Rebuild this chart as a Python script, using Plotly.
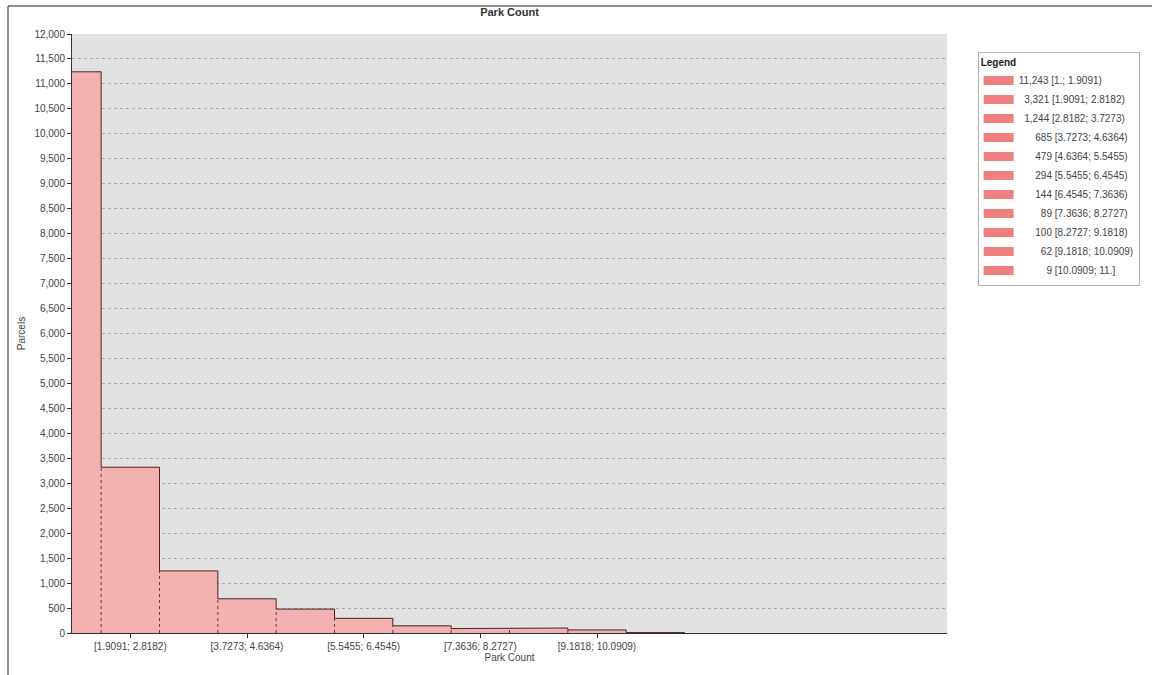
import plotly.graph_objects as go

counts = [11243, 3321, 1244, 685, 479, 294, 144, 89, 100, 62, 9]
intervals = ["[1.; 1.9091)", "[1.9091; 2.8182)", "[2.8182; 3.7273)", "[3.7273; 4.6364)",
             "[4.6364; 5.5455)", "[5.5455; 6.4545)", "[6.4545; 7.3636)", "[7.3636; 8.2727)",
             "[8.2727; 9.1818)", "[9.1818; 10.0909)", "[10.0909; 11.]"]
tick_positions = [1, 3, 5, 7, 9]
tick_labels = [intervals[i] for i in tick_positions]

FONT = "Liberation Sans, Arial, sans-serif"
BAR_FILL = "#f2b0b0"
LEG_FILL = "#ee8080"
OUTLINE = "#4a2222"
DASH_EDGE = "#7a3030"

fig = go.Figure()

max_len = max(len(f"{c:,}") for c in counts)
for i, (c, lab) in enumerate(zip(counts, intervals)):
    num = f"{c:,}"
    pad = "\u2007" * (max_len - len(num))
    fig.add_trace(go.Bar(
        x=[i], y=[c], width=1,
        name=f"{pad}{num} {lab}",
        marker=dict(color=BAR_FILL, line=dict(width=0)),
        showlegend=False, hoverinfo="y+name",
    ))
    # legend proxy (rectangular swatch)
    fig.add_trace(go.Scatter(
        x=[None], y=[None], mode="lines",
        name=f"{pad}{num} {lab}",
        line=dict(color=LEG_FILL, width=9),
        showlegend=True,
    ))

# dashed shared edges between neighbouring bars (derived from the data)
dx, dy = [], []
for i in range(len(counts) - 1):
    dx += [i + 0.5, i + 0.5, None]
    dy += [0, min(counts[i], counts[i + 1]), None]
fig.add_trace(go.Scatter(x=dx, y=dy, mode="lines", showlegend=False, hoverinfo="skip",
                         line=dict(color=DASH_EDGE, width=1, dash="3px,3px")))

# solid silhouette outline along the bar tops
sx, sy = [], []
for i, c in enumerate(counts):
    sx += [i - 0.5, i + 0.5]
    sy += [c, c]
sx.append(len(counts) - 0.5)
sy.append(0)
fig.add_trace(go.Scatter(x=sx, y=sy, mode="lines", showlegend=False, hoverinfo="skip",
                         line=dict(color=OUTLINE, width=1)))

fig.update_layout(
    width=1152, height=675,
    paper_bgcolor="white",
    plot_bgcolor="#e1e1e1",
    barmode="overlay",
    bargap=0,
    margin=dict(l=72, r=205, t=34, b=42),
    font=dict(family=FONT, size=10, color="#444444"),
    title=dict(text="<b>Park Count</b>", x=(72 + 947) / 2 / 1152, xanchor="center",
               y=1 - 12 / 675, yanchor="middle", font=dict(size=11, color="#333333")),
    legend=dict(
        title=dict(text="<b>Legend</b>", font=dict(size=10, color="#222222"), side="top"),
        x=1.035, xanchor="left", y=0.97, yanchor="top",
        bgcolor="white", bordercolor="#b0b0b0", borderwidth=1,
        font=dict(size=10, color="#444444"),
        tracegroupgap=0, itemwidth=30,
    ),
    xaxis=dict(
        range=[0, 15],
        tickvals=tick_positions, ticktext=tick_labels,
        ticks="outside", ticklen=4, tickcolor="#333333",
        showgrid=False, zeroline=False,
        showline=True, linecolor="#333333", linewidth=1,
        title=dict(text="Park Count", standoff=2, font=dict(size=10, color="#444444")),
        tickfont=dict(size=10, color="#444444"),
    ),
    yaxis=dict(
        range=[0, 12000], dtick=500, tickformat=",",
        ticks="outside", ticklen=4, tickcolor="#333333",
        showgrid=True, gridcolor="#a8a8a8", griddash="3px,3px", gridwidth=1,
        zeroline=False,
        showline=True, linecolor="#333333", linewidth=1,
        title=dict(text="Parcels", standoff=6, font=dict(size=10, color="#444444")),
        tickfont=dict(size=10, color="#444444"),
    ),
)

# outer frame lines (top and left) like the reference image border
fig.add_shape(type="line", xref="paper", yref="paper",
              x0=-64 / 875, x1=1.3, y0=1 + 28 / 599, y1=1 + 28 / 599,
              line=dict(color="#222222", width=1))
fig.add_shape(type="line", xref="paper", yref="paper",
              x0=-64 / 875, x1=-64 / 875, y0=-0.08, y1=1 + 28 / 599,
              line=dict(color="#222222", width=1))

fig.write_html("out.html", config={"displayModeBar": False},
               post_script="document.body.style.margin='0';")
